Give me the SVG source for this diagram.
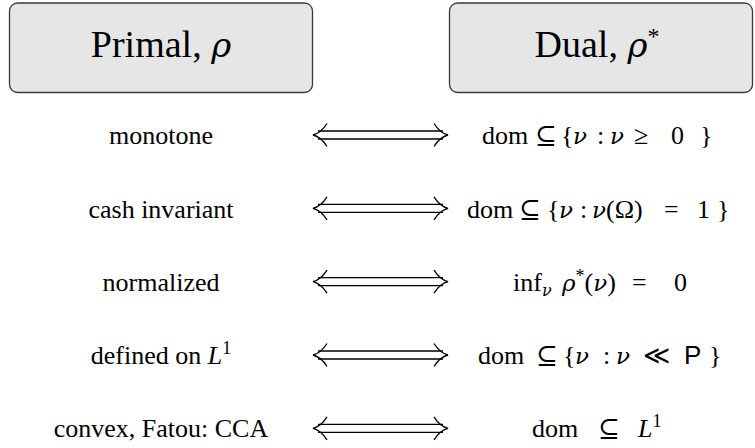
<svg xmlns="http://www.w3.org/2000/svg" width="755" height="448" viewBox="0 0 755 448">
  <style>
    .box { fill: #e6e6e6; stroke: #3a3a3a; stroke-width: 1.3; }
    .head { font-family: "Liberation Serif", "DejaVu Serif", serif; font-size: 38px; fill: #000; }
    .lbl { font-family: "Liberation Serif", "DejaVu Serif", serif; font-size: 26px; fill: #000; }
    .it { font-style: italic; }
    .gr { font-family: "DejaVu Serif", serif; font-style: italic; }
    .sans { font-family: "Liberation Sans", "DejaVu Sans", sans-serif; }
    .ln { fill: none; stroke: #000; stroke-width: 1.3; }
  </style>
  <defs>
    <g id="iff">
      <path class="ln" d="M318,-4 H443 M318,4 H443"/>
      <path class="ln" d="M327,-11.5 Q321,-2 313,0 Q321,2 327,11.5"/>
      <path class="ln" d="M434,-11.5 Q440,-2 448,0 Q440,2 434,11.5"/>
    </g>
  </defs>
  <rect width="755" height="448" fill="#fff"/>

  <g id="primal">
    <rect class="box" x="9.5" y="3" width="303" height="89.5" rx="8"/>
    <text class="head" x="161" y="57" text-anchor="middle">Primal, <tspan class="gr" font-size="34">ρ</tspan></text>
  </g>
  <g id="dual">
    <rect class="box" x="449.5" y="3" width="303" height="89.5" rx="8"/>
    <text class="head" x="597" y="57" text-anchor="middle">Dual, <tspan class="gr" font-size="34">ρ</tspan><tspan font-size="24" dy="-13">*</tspan></text>
  </g>

  <g id="connectors">
    <use href="#iff" y="135"/>
    <use href="#iff" y="208.3"/>
    <use href="#iff" y="281.7"/>
    <use href="#iff" y="355"/>
    <use href="#iff" y="428.3"/>
  </g>

  <g id="row-monotone">
    <text class="lbl" x="161" y="144" text-anchor="middle">monotone</text>
    <text class="lbl" y="144"><tspan x="482">dom</tspan><tspan x="535">⊆</tspan><tspan x="561">{</tspan><tspan class="gr" font-size="23" x="573">ν</tspan><tspan x="597">:</tspan><tspan class="gr" font-size="23" x="610">ν</tspan><tspan x="634">≥</tspan><tspan x="671">0</tspan><tspan x="700">}</tspan></text>
  </g>
  <g id="row-cash">
    <text class="lbl" x="161" y="217.5" text-anchor="middle">cash invariant</text>
    <text class="lbl" y="217.5"><tspan x="467">dom</tspan><tspan x="519">⊆</tspan><tspan x="547">{</tspan><tspan class="gr" font-size="23" x="559">ν</tspan><tspan x="580">:</tspan><tspan class="gr" font-size="23" x="592">ν</tspan><tspan>(Ω)</tspan><tspan x="664">=</tspan><tspan x="697">1</tspan><tspan x="717">}</tspan></text>
  </g>
  <g id="row-normalized">
    <text class="lbl" x="161" y="290.5" text-anchor="middle">normalized</text>
    <text class="lbl" y="290.5"><tspan x="513">inf</tspan><tspan class="gr" font-size="16" dy="5">ν</tspan><tspan class="gr" font-size="23" x="562" dy="-5">ρ</tspan><tspan font-size="18" dy="-9">*</tspan><tspan dy="9">(</tspan><tspan class="gr" font-size="23">ν</tspan><tspan>)</tspan><tspan x="632">=</tspan><tspan x="674">0</tspan></text>
  </g>
  <g id="row-defined">
    <text class="lbl" x="161" y="364" text-anchor="middle">defined on <tspan class="it">L</tspan><tspan font-size="18" dy="-10">1</tspan></text>
    <text class="lbl" y="364"><tspan x="478">dom</tspan><tspan x="536">⊆</tspan><tspan x="563">{</tspan><tspan class="gr" font-size="23" x="575">ν</tspan><tspan x="603">:</tspan><tspan class="gr" font-size="23" x="616">ν</tspan><tspan x="643">≪</tspan><tspan class="sans" x="684">P</tspan><tspan x="709">}</tspan></text>
  </g>
  <g id="row-convex">
    <text class="lbl" x="161" y="437" text-anchor="middle">convex, Fatou: CCA</text>
    <text class="lbl" y="437"><tspan x="532">dom</tspan><tspan x="598">⊆</tspan><tspan class="it" x="638">L</tspan><tspan font-size="18" dy="-10">1</tspan></text>
  </g>
</svg>
